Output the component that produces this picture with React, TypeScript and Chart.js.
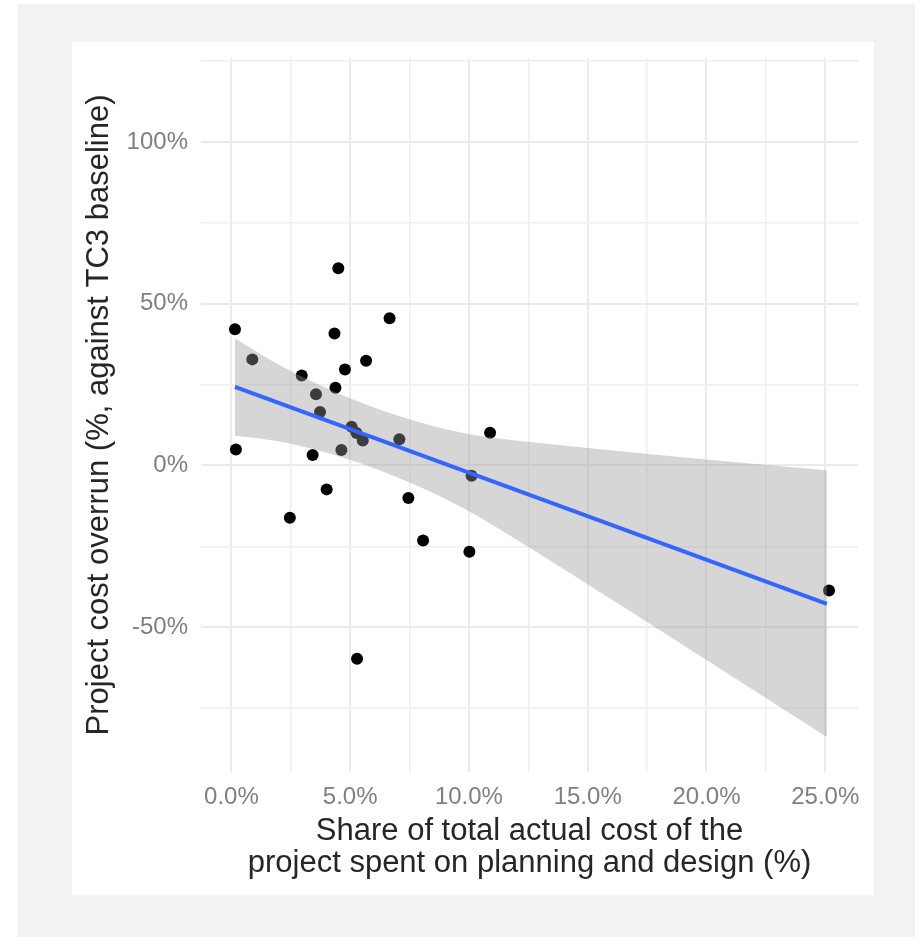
import React, { useEffect, useRef } from 'react';
import { Chart, registerables } from 'chart.js';

Chart.register(...registerables);

// Scatter points: share spent on planning & design (%) vs cost overrun (%)
const pointX = [0.15, 0.19, 0.88, 2.96, 2.46, 3.56, 3.73, 3.42, 4.01, 4.5, 4.34, 4.78, 4.38, 4.63, 5.06, 5.27, 5.53, 5.67, 5.29, 6.66, 7.07, 7.45, 8.07, 10.02, 10.11, 10.89, 25.16];
const pointY = [42.1, 4.9, 32.8, 27.8, -16.2, 22.0, 16.5, 3.2, -7.4, 61.0, 40.8, 29.7, 24.0, 4.8, 12.0, 10.0, 7.7, 32.4, -59.8, 45.5, 8.1, -10.1, -23.2, -26.7, -3.2, 10.1, -38.7];

// Fitted regression line
const fitX = [0.15, 25.07];
const fitY = [24.3, -42.8];

// Confidence band
const bandX = [0.15, 2.04, 4.85, 7.66, 9.06, 10.47, 13.28, 15.52, 17.63, 25.07];
const bandUpper = [39.3, 31.0, 21.2, 13.9, 11.1, 9.1, 6.7, 5.0, 3.5, -1.5];
const bandLower = [9.2, 7.4, 2.1, -5.7, -10.5, -16.1, -28.8, -39.2, -49.0, -84.0];

// Ticks / grid
const xTicks = [0, 2.5, 5, 7.5, 10, 12.5, 15, 17.5, 20, 22.5, 25];
const xLabelTicks = [0, 5, 10, 15, 20, 25];
const yTicks = [-75, -50, -25, 0, 25, 50, 75, 100, 125];
const yLabelTicks = [-50, 0, 50, 100];

const xTitle = ['Share of total actual cost of the', 'project spent on planning and design (%)'];
const yTitle = 'Project cost overrun (%, against TC3 baseline)';

const FONT = '"Liberation Sans", Arial, Helvetica, sans-serif';

const backgroundPlugin = {
  id: 'figureBackground',
  beforeDraw(chart: any) {
    const { ctx, width, height } = chart;
    ctx.save();
    ctx.fillStyle = '#ffffff';
    ctx.fillRect(0, 0, width, height);
    ctx.fillStyle = '#f2f2f2';
    ctx.fillRect(18, 4, 897, height - 4);
    ctx.fillStyle = '#ffffff';
    ctx.fillRect(72, 42, 802, 853);
    ctx.restore();
  },
};

export default function App() {
  const ref = useRef<HTMLCanvasElement | null>(null);

  useEffect(() => {
    if (!ref.current) return;
    const points = pointX.map((x, i) => ({ x, y: pointY[i] }));
    const fit = fitX.map((x, i) => ({ x, y: fitY[i] }));
    const upper = bandX.map((x, i) => ({ x, y: bandUpper[i] }));
    const lower = bandX.map((x, i) => ({ x, y: bandLower[i] }));

    const chart = new Chart(ref.current, {
      type: 'scatter',
      data: {
        datasets: [
          {
            type: 'line',
            label: 'fit',
            data: fit,
            borderColor: '#3366FF',
            borderWidth: 4,
            pointRadius: 0,
            fill: false,
            order: 0,
            borderCapStyle: 'butt',
          } as any,
          {
            type: 'line',
            label: 'upper',
            data: upper,
            borderWidth: 0,
            borderColor: 'rgba(0,0,0,0)',
            pointRadius: 0,
            fill: '+1',
            backgroundColor: 'rgba(153,153,153,0.4)',
            cubicInterpolationMode: 'monotone',
            order: 1,
          } as any,
          {
            type: 'line',
            label: 'lower',
            data: lower,
            borderWidth: 0,
            borderColor: 'rgba(0,0,0,0)',
            pointRadius: 0,
            fill: false,
            cubicInterpolationMode: 'monotone',
            order: 1,
          } as any,
          {
            label: 'points',
            data: points,
            backgroundColor: '#000000',
            borderWidth: 0,
            pointRadius: 6,
            pointHoverRadius: 6,
            order: 2,
          } as any,
        ],
      },
      options: {
        animation: false,
        responsive: false,
        devicePixelRatio: 1,
        layout: { padding: { left: 72, top: 58, right: 64, bottom: 42 } },
        plugins: {
          legend: { display: false },
          tooltip: { enabled: false },
        },
        scales: {
          x: {
            type: 'linear',
            min: -1.28,
            max: 26.38,
            afterBuildTicks: (scale: any) => {
              scale.ticks = xTicks.map((v) => ({ value: v }));
            },
            afterFit: (scale: any) => {
              scale.height = 123;
            },
            ticks: {
              autoSkip: false,
              maxRotation: 0,
              padding: 11,
              color: '#808080',
              font: { family: FONT, size: 24 },
              callback: (v: any) => (xLabelTicks.includes(Number(v)) ? Number(v).toFixed(1) + '%' : ''),
            },
            grid: {
              drawTicks: false,
              color: (c: any) => (c.tick && c.tick.value % 5 === 0 ? '#ebebeb' : '#efefef'),
              lineWidth: (c: any) => (c.tick && c.tick.value % 5 === 0 ? 2 : 1.5),
            },
            border: { display: false },
            title: {
              display: true,
              text: xTitle,
              color: '#262626',
              font: { family: FONT, size: 31, lineHeight: 1.05 },
              padding: { top: 0, bottom: 15 },
            },
          },
          y: {
            type: 'linear',
            min: -94.8,
            max: 126,
            afterBuildTicks: (scale: any) => {
              scale.ticks = yTicks.map((v) => ({ value: v }));
            },
            afterFit: (scale: any) => {
              scale.width = 129;
            },
            ticks: {
              autoSkip: false,
              padding: 13,
              color: '#808080',
              font: { family: FONT, size: 24 },
              callback: (v: any) => (yLabelTicks.includes(Number(v)) ? Number(v) + '%' : ''),
            },
            grid: {
              drawTicks: false,
              color: (c: any) => (c.tick && c.tick.value % 50 === 0 ? '#ebebeb' : '#efefef'),
              lineWidth: (c: any) => (c.tick && c.tick.value % 50 === 0 ? 2 : 1.5),
            },
            border: { display: false },
            title: {
              display: true,
              text: yTitle,
              color: '#262626',
              font: { family: FONT, size: 31, lineHeight: 1.2 },
              padding: { top: 9, bottom: 0 },
            },
          },
        },
      },
      plugins: [backgroundPlugin],
    });

    return () => chart.destroy();
  }, []);

  return (
    <div style={{ position: 'absolute', left: 0, top: 0, width: 922, height: 937 }}>
      <canvas ref={ref} width={922} height={937} style={{ display: 'block', width: 922, height: 937 }} />
    </div>
  );
}
